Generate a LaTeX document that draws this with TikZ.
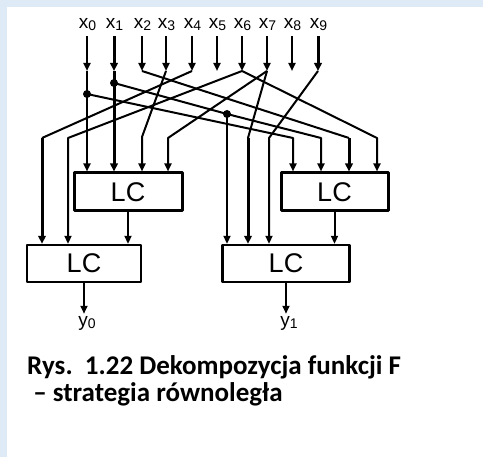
\documentclass[tikz,border=0pt]{standalone}
\usepackage{fontspec}
\setmainfont{Liberation Sans}
\newfontfamily\capfont{Carlito}
\usetikzlibrary{arrows.meta,positioning}
\definecolor{pagebg}{RGB}{222,234,246}
\definecolor{ink}{RGB}{0,0,0}
\newcommand{\sbs}[1]{\raisebox{-2pt}{\fontsize{14}{14}\selectfont #1}}

\begin{document}
\begin{tikzpicture}[x=1pt, y=-1pt, line join=round,
    wire/.style={draw=ink, line width=2pt},
    thickwire/.style={draw=ink, line width=3pt},
    arr/.style={wire, -{Triangle[length=8pt,width=7pt]}},
    thickarr/.style={thickwire, -{Triangle[length=8pt,width=7.5pt]}},
    inarr/.style={arr, shorten <=5pt},
    outarr/.style={arr, shorten >=3pt},
    lcbox/.style={draw=ink, line width=2.4pt, minimum height=38pt, inner sep=0pt,
                  font=\fontsize{27}{30}\selectfont},
    sig/.style={inner sep=0pt, anchor=base, font=\fontsize{19}{22}\selectfont},
    joint/.style={circle, fill=ink, inner sep=0pt, minimum size=8pt},
    caption/.style={inner sep=0pt, anchor=base west, font=\capfont\bfseries\fontsize{27}{31}\selectfont}]
  % page
  \fill[pagebg] (0,0) rectangle (483,457);
  \fill[white] (7,7) rectangle (483,457);

  % input signals
  \node[sig] (x0) at (87.5,29) {x\sbs{0}};
  \node[sig] (x1) at (114.5,29) {x\sbs{1}};
  \node[sig] (x2) at (142.5,29) {x\sbs{2}};
  \node[sig] (x3) at (166.5,29) {x\sbs{3}};
  \node[sig] (x4) at (192.5,29) {x\sbs{4}};
  \node[sig] (x5) at (217.5,29) {x\sbs{5}};
  \node[sig] (x6) at (242.5,29) {x\sbs{6}};
  \node[sig] (x7) at (267.5,29) {x\sbs{7}};
  \node[sig] (x8) at (292.5,29) {x\sbs{8}};
  \node[sig] (x9) at (318.5,29) {x\sbs{9}};

  \coordinate (t0) at (87,71);
  \coordinate (t1) at (114,71);
  \coordinate (t2) at (142,71);
  \coordinate (t3) at (166,71);
  \coordinate (t4) at (192,71);
  \coordinate (t5) at (217,71);
  \coordinate (t6) at (242,71);
  \coordinate (t7) at (267,71);
  \coordinate (t8) at (292,71);
  \coordinate (t9) at (318,71);

  \draw[inarr] (x0.south -| t0) -- (t0);
  \draw[inarr, thickarr] (x1.south -| t1) -- (t1);
  \draw[inarr] (x2.south -| t2) -- (t2);
  \draw[inarr] (x3.south -| t3) -- (t3);
  \draw[inarr] (x4.south -| t4) -- (t4);
  \draw[inarr] (x5.south -| t5) -- (t5);
  \draw[inarr] (x6.south -| t6) -- (t6);
  \draw[inarr] (x7.south -| t7) -- (t7);
  \draw[inarr] (x8.south -| t8) -- (t8);
  \draw[inarr, thickarr] (x9.south -| t9) -- (t9);

  % blocks
  \node[lcbox, minimum width=108pt, line width=3pt] (uL) at (128,192) {LC};
  \node[lcbox, minimum width=107pt, line width=3pt] (uR) at (334.5,192) {LC};
  \node[lcbox, minimum width=114pt, minimum height=37pt] (lL) at (84,263.5) {LC};
  \node[lcbox, minimum width=127pt, minimum height=37pt] (lR) at (286,263.5) {LC};

  % bends
  \coordinate (d0) at (87,94);
  \coordinate (d1) at (114,83);
  \coordinate (j1) at (227,114);
  \coordinate (k0) at (293,138);
  \coordinate (k1) at (321,138);
  \coordinate (k2) at (349,138);
  \coordinate (k3) at (142,137);
  \coordinate (k4) at (42,138);
  \coordinate (k6a) at (68,138);
  \coordinate (k6b) at (377,138);
  \coordinate (k7a) at (168,138);
  \coordinate (k7b) at (248,138);
  \coordinate (k9) at (269,138);

  % wiring
  \draw[arr] (t0) -- (t0 |- uL.north);
  \draw[arr] (d0) -- (k0) -- (k0 |- uR.north);
  \draw[thickarr] (t1) -- (t1 |- uL.north);
  \draw[arr] (d1) -- (j1) -- (k1) -- (k1 |- uR.north);
  \draw[arr] (j1) -- (j1 |- lR.north);
  \draw[wire] (t2) -- (k2);
  \draw[thickarr] (k2) -- (k2 |- uR.north);
  \draw[arr] (t3) -- (k3) -- (k3 |- uL.north);
  \draw[wire] (t4) -- (k4);
  \draw[thickarr] (k4) -- (k4 |- lL.north);
  \draw[arr] (t6) -- (k6a) -- (k6a |- lL.north);
  \draw[arr] (t6) -- (k6b) -- (k6b |- uR.north);
  \draw[arr] (t7) -- (k7a) -- (k7a |- uL.north);
  \draw[wire] (t7) -- (k7b);
  \draw[thickarr] (k7b) -- (k7b |- lR.north);
  \draw[arr] (t9) -- (k9) -- (k9 |- lR.north);
  \node[joint] at (d0) {};
  \node[joint] at (d1) {};
  \node[joint] at (j1) {};

  % outputs
  \draw[arr] (uL.south) -- (uL.south |- lL.north);
  \draw[arr] (uR.south) -- (uR.south |- lR.north);
  \node[sig] (y0) at (87,327) {y\sbs{0}};
  \node[sig] (y1) at (289,327) {y\sbs{1}};
  \draw[outarr] (lL.south) -- (lL.south |- y0.north);
  \draw[outarr] (lR.south) -- (lR.south |- y1.north);

  % caption
  \node[caption] (cap1) at (27,375) {Rys.\ \ 1.22 Dekompozycja funkcji F};
  \node[caption] (cap2) at (27,402) {\ – strategia równoległa};
\end{tikzpicture}
\end{document}
